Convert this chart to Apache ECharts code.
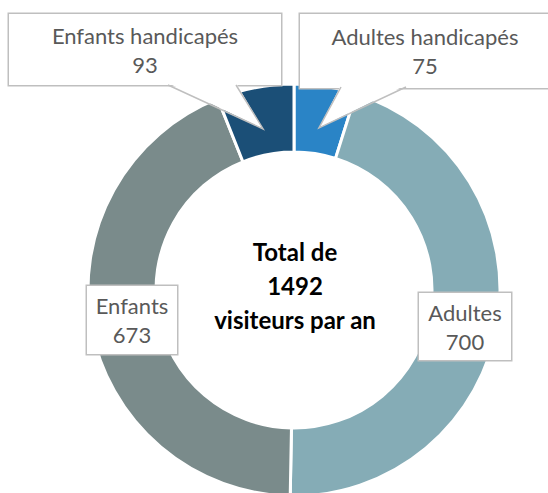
<!DOCTYPE html>
<html><head><meta charset="utf-8">
<script src="https://cdn.jsdelivr.net/npm/echarts@6/dist/echarts.min.js"></script>
<style>html,body{margin:0;padding:0;background:#fff}#c{width:548px;height:493px}</style>
</head><body><div id="c"></div>
<script>
const categories = ['Adultes handicapés', 'Adultes', 'Enfants', 'Enfants handicapés'];
const values = [75, 700, 673, 93];
const colors = ['#2a84c6', '#85acb6', '#7a8b8b', '#1b4f77'];
const centerLines = ['Total de', '1492', 'visiteurs par an'];

const CX = 294, CY = 290, R0 = 138, R1 = 206;
const FONT = 'Lato';
// label box: center x, center y, width, height, text vertical shift
const labelBoxes = [
  [425, 51, 250, 74, -6],
  [465, 326.5, 92, 67, 0],
  [132, 320, 90, 68, 1],
  [145, 49.5, 272, 71, -5]
];
// callout base segments on box bottoms (for the two small slices)
const callouts = { 0: [341, 406, 87], 3: [168, 236, 85] };
const LH = 29;

const chart = echarts.init(document.getElementById('c'), null, { renderer: 'svg' });
const total = values.reduce((a, b) => a + b, 0);

const data = categories.map((name, i) => {
  const b = labelBoxes[i];
  const pv = (b[3] - 2 * LH) / 2;
  return {
    name, value: values[i],
    itemStyle: { color: colors[i] },
    label: { width: b[2], padding: [pv + b[4], 0, pv - b[4], 0] }
  };
});

const graphics = [{
  type: 'text', z: 100,
  style: {
    x: CX + 1, y: CY - 5, text: centerLines.join('\n'),
    font: 'bold 24px ' + FONT, fill: '#000', align: 'center', verticalAlign: 'middle', lineHeight: 34
  }
}];

let cum = 0;
values.forEach((v, i) => {
  const a = (cum + v / 2) / total * 2 * Math.PI;
  cum += v;
  if (callouts[i]) {
    const r = 164;
    const tip = [CX + r * Math.sin(a), CY - r * Math.cos(a)];
    const c = callouts[i];
    graphics.push({
      type: 'polygon', z: 100,
      shape: { points: [[c[0], c[2] - 2], tip, [c[1], c[2] - 2]] },
      style: { fill: '#fff', stroke: null }
    });
    graphics.push({
      type: 'polyline', z: 101,
      shape: { points: [[c[0], c[2]], tip, [c[1], c[2]]] },
      style: { fill: null, stroke: '#bfbfbf', lineWidth: 1.5 }
    });
  }
});

chart.setOption({
  animation: false,
  graphic: graphics,
  series: [{
    type: 'pie',
    center: [CX, CY],
    radius: [R0, R1],
    startAngle: 90,
    clockwise: true,
    avoidLabelOverlap: false,
    emphasis: { disabled: true },
    itemStyle: { borderColor: '#fff', borderWidth: 3 },
    label: {
      show: true, position: 'outside',
      formatter: '{b}\n{c}',
      color: '#595959', fontFamily: FONT, fontSize: 22, lineHeight: LH,
      align: 'center',
      backgroundColor: '#fff', borderColor: '#bfbfbf', borderWidth: 1.5
    },
    labelLine: { show: false },
    labelLayout: function (p) {
      const b = labelBoxes[p.dataIndex];
      return { x: b[0], y: b[1], align: 'center', verticalAlign: 'middle' };
    },
    data: data
  }]
});
</script>
</body></html>
